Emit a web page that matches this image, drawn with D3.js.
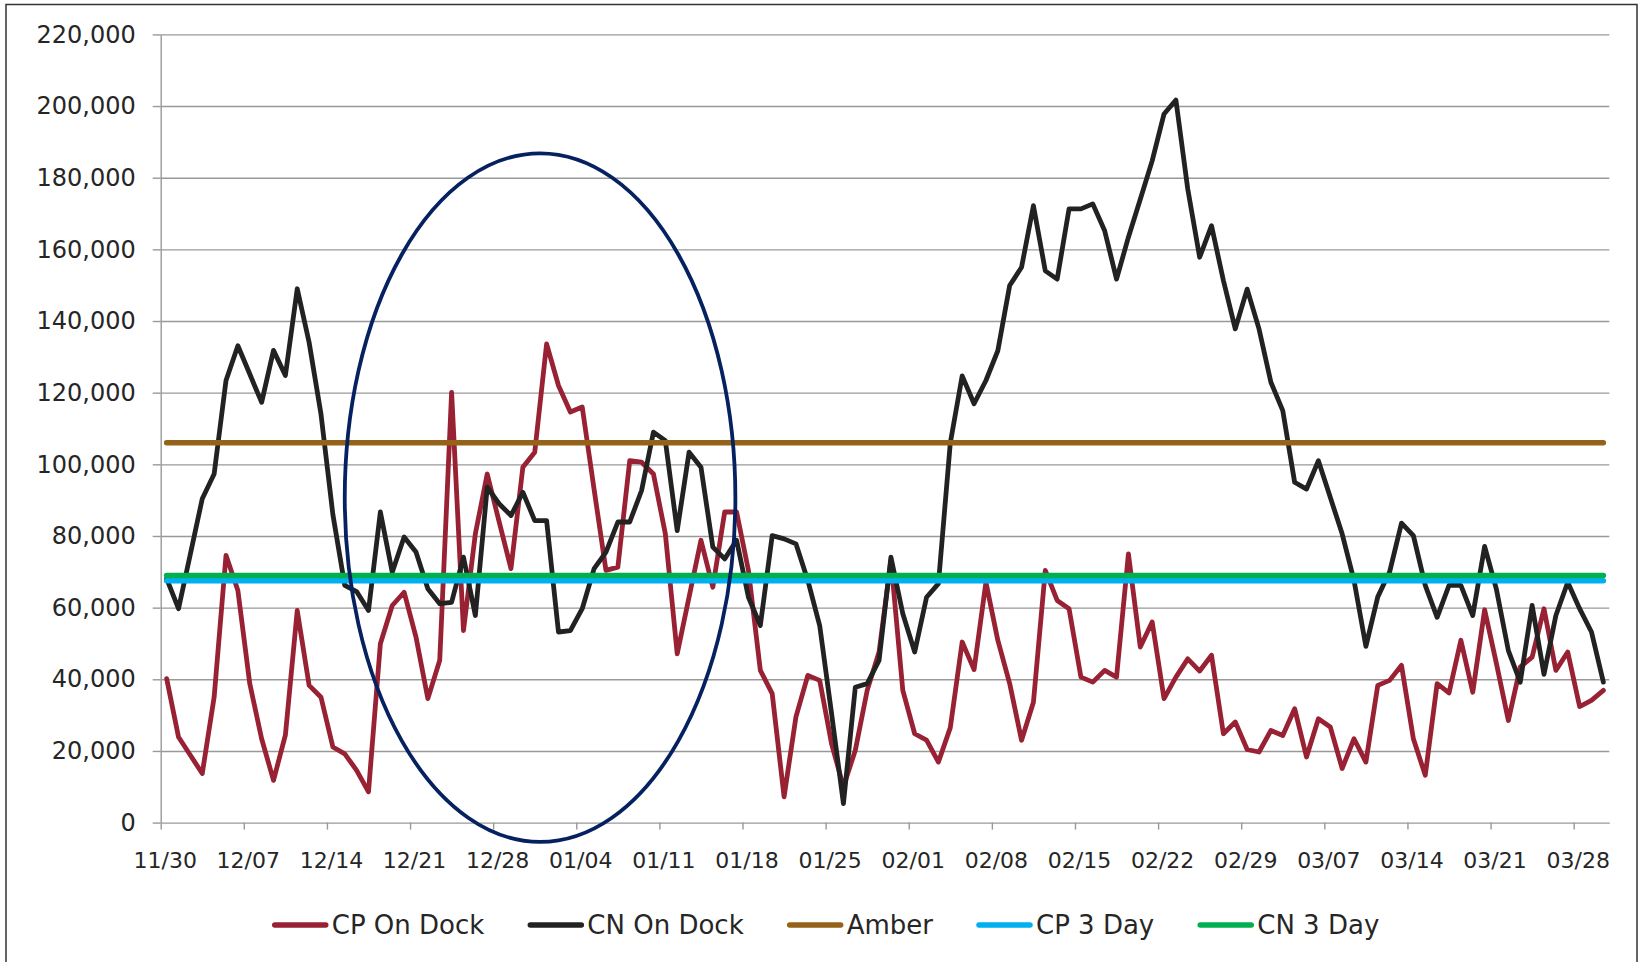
<!DOCTYPE html>
<html>
<head>
<meta charset="utf-8">
<script src="https://cdnjs.cloudflare.com/ajax/libs/d3/7.8.5/d3.min.js"></script>
<style>
  body { margin: 0; background: #ffffff; }
  #chart text { font-family: "DejaVu Sans", Verdana, sans-serif; fill: #262626; }
</style>
</head>
<body>
<div id="chart"></div>
<script>
// one value per day, first day is 11/30
const cpOnDock = [
  40200, 23900, 18800, 13700, 35000, 74600, 64800, 38800, 23400, 11800,
  24400, 59200, 38300, 35000, 21100, 19200, 14600, 8600, 49900, 60600,
  64300, 51800, 34600, 45300, 120100, 53600, 80600, 97300, 84000, 70900,
  99200, 103400, 133600, 122000, 114600, 116000, 93000, 70400, 71300, 101000,
  100600, 97300, 80600, 47100, 63000, 78800, 65700, 86700, 86700, 70400,
  42500, 36000, 7200, 29500, 41100, 39700, 22000, 10000, 20200, 36900,
  47600, 73200, 36900, 24800, 23000, 16900, 26500, 50400, 42700, 67100,
  50900, 38800, 23000, 33600, 70400, 62000, 59700, 40600, 39200, 42500,
  40600, 75000, 49000, 56000, 34600, 40600, 45700, 42300, 46700, 24800,
  28100, 20400, 19700, 25700, 24300, 31800, 18300, 29000, 26700, 15100,
  23400, 16900, 38300, 39700, 43900, 23400, 13200, 38800, 36200, 50900,
  36400, 59400, 44300, 28500, 43400, 46200, 59700, 42500, 47600, 32400,
  34100, 36900
];

const cnOnDock = [
  68100, 59700, 75000, 90400, 97300, 123400, 133100, 125200, 117300, 131800,
  124800, 149000, 134000, 114000, 86000, 66200, 64500, 59200, 86700, 69900,
  79700, 75500, 65300, 61100, 61500, 74100, 57800, 93600, 89000, 85700,
  92200, 84300, 84300, 53200, 53600, 59700, 70900, 75500, 83900, 83900,
  92700, 109000, 106600, 81500, 103400, 99200, 76900, 73600, 78800, 62900,
  55000, 80100, 79200, 77800, 67600, 55000, 30400, 5300, 37800, 38800,
  45300, 74100, 58300, 47600, 62900, 66700, 106000, 124700, 116900, 123400,
  131700, 149900, 155000, 172200, 154000, 151700, 171300, 171300, 172700, 165200,
  151700, 163400, 174000, 184700, 197800, 201700, 176800, 157800, 166600, 151300,
  137800, 148900, 137800, 122900, 115000, 95000, 93100, 101000, 90800, 80600,
  67600, 49200, 63000, 70000, 83600, 80100, 66200, 57300, 66200, 66200,
  57800, 77100, 65000, 48000, 39200, 60600, 41400, 57800, 67100, 59700,
  53200, 39200
];

const amberLevel = 106000;
const cp3Day = 67500;
const cn3Day = 69000;

const yTicks = [0, 20000, 40000, 60000, 80000, 100000, 120000, 140000, 160000, 180000, 200000, 220000];
const xTickLabels = ["11/30", "12/07", "12/14", "12/21", "12/28", "01/04", "01/11", "01/18", "01/25",
  "02/01", "02/08", "02/15", "02/22", "02/29", "03/07", "03/14", "03/21", "03/28"];

const seriesNames = ["CP On Dock", "CN On Dock", "Amber", "CP 3 Day", "CN 3 Day"];
const seriesColors = ["#982133", "#222222", "#956219", "#00b0f0", "#00b050"];

// hand drawn highlight, given as day index span and value span
const highlightDays = [15.0, 47.9];
const highlightValues = [-5400, 186800];


class DockChart {

  constructor(_config) {
    this.config = {
      parentElement: _config.parentElement,
      containerWidth: 1640,
      containerHeight: 962,
      margin: {top: 34.4, right: 30.7, bottom: 139.4, left: 160.7}
    }
    this.initVis();
  }

  initVis() {
    let vis = this;

    vis.width = vis.config.containerWidth - vis.config.margin.left - vis.config.margin.right;
    vis.height = vis.config.containerHeight - vis.config.margin.top - vis.config.margin.bottom;

    vis.svgRoot = d3.select(vis.config.parentElement)
        .append("svg")
        .attr("width", vis.config.containerWidth)
        .attr("height", vis.config.containerHeight);

    // outer frame of the chart
    vis.svgRoot.append("rect")
        .attr("x", 6)
        .attr("y", 4.5)
        .attr("width", 1631)
        .attr("height", 1000)
        .attr("fill", "none")
        .attr("stroke", "#333")
        .attr("stroke-width", 1.5);

    vis.svg = vis.svgRoot.append("g")
        .attr("transform", "translate(" + vis.config.margin.left + "," + vis.config.margin.top + ")");

    vis.nDays = cpOnDock.length;

    vis.x = d3.scaleLinear()
        .domain([0, vis.nDays])
        .range([0, vis.width]);

    vis.y = d3.scaleLinear()
        .domain([0, 220000])
        .range([vis.height, 0]);

    vis.renderVis();
  }

  renderVis() {
    let vis = this;

    // gridlines
    vis.svg.append("g")
        .attr("class", "grid")
        .call(d3.axisLeft(vis.y).tickValues(yTicks.slice(1)).tickSize(-vis.width).tickFormat(""))
        .call(g => g.select(".domain").remove())
        .selectAll("line")
        .attr("stroke", "#999")
        .attr("stroke-width", 1.4);

    // y axis
    let yAxis = vis.svg.append("g")
        .call(d3.axisLeft(vis.y)
            .tickValues(yTicks)
            .tickSize(8)
            .tickSizeOuter(0)
            .tickPadding(17)
            .tickFormat(d3.format(",")));
    yAxis.select(".domain").attr("stroke", "#999").attr("stroke-width", 1.4);
    yAxis.selectAll("line").attr("stroke", "#999").attr("stroke-width", 1.4);
    yAxis.selectAll("text").attr("font-size", "24px");

    // x axis, a tick each week
    let xAxis = vis.svg.append("g")
        .attr("transform", "translate(0," + vis.height + ")")
        .call(d3.axisBottom(vis.x)
            .tickValues(d3.range(0, vis.nDays, 7))
            .tickSize(7)
            .tickSizeOuter(0)
            .tickFormat((d, i) => xTickLabels[i]));
    xAxis.select(".domain").attr("stroke", "#999").attr("stroke-width", 1.4);
    xAxis.selectAll("line").attr("stroke", "#999").attr("stroke-width", 1.4);
    xAxis.selectAll("text")
        .attr("font-size", "22px")
        .attr("dy", "0")
        .attr("dx", "4")
        .attr("y", 45);

    // points sit in the middle of each day
    let xPoint = i => vis.x(i + 0.5);

    let line = d3.line()
        .x((d, i) => xPoint(i))
        .y(d => vis.y(d));

    let levels = [amberLevel, cp3Day, cn3Day];
    let seriesData = [cpOnDock, cnOnDock].concat(levels.map(v => cpOnDock.map(() => v)));

    seriesData.forEach((values, k) => {
      vis.svg.append("path")
          .datum(values)
          .attr("d", line)
          .attr("fill", "none")
          .attr("stroke", seriesColors[k])
          .attr("stroke-width", k < 2 ? 4.8 : 5.5)
          .attr("stroke-linejoin", "round")
          .attr("stroke-linecap", "round");
    });

    // highlight ellipse
    let ex0 = xPoint(highlightDays[0]), ex1 = xPoint(highlightDays[1]);
    let ey0 = vis.y(highlightValues[1]), ey1 = vis.y(highlightValues[0]);
    vis.svg.append("ellipse")
        .attr("cx", (ex0 + ex1) / 2)
        .attr("cy", (ey0 + ey1) / 2)
        .attr("rx", (ex1 - ex0) / 2)
        .attr("ry", (ey1 - ey0) / 2)
        .attr("fill", "none")
        .attr("stroke", "#06215f")
        .attr("stroke-width", 3.8);

    // legend
    let legend = vis.svgRoot.append("g").attr("class", "legend");
    let gap = 44;
    let pos = 0;
    seriesNames.forEach((name, k) => {
      let item = legend.append("g").attr("transform", "translate(" + pos + ",0)");
      item.append("line")
          .attr("x1", 2).attr("x2", 53)
          .attr("y1", 0).attr("y2", 0)
          .attr("stroke", seriesColors[k])
          .attr("stroke-width", 5.5)
          .attr("stroke-linecap", "round");
      let t = item.append("text")
          .attr("x", 59)
          .attr("y", 9.3)
          .attr("font-size", "26px")
          .text(name);
      pos += 59 + t.node().getComputedTextLength() + gap;
    });
    let total = pos - gap;
    legend.attr("transform", "translate(" + (826 - total / 2) + ",925)");
  }
}

new DockChart({parentElement: "#chart"});
</script>
</body>
</html>
